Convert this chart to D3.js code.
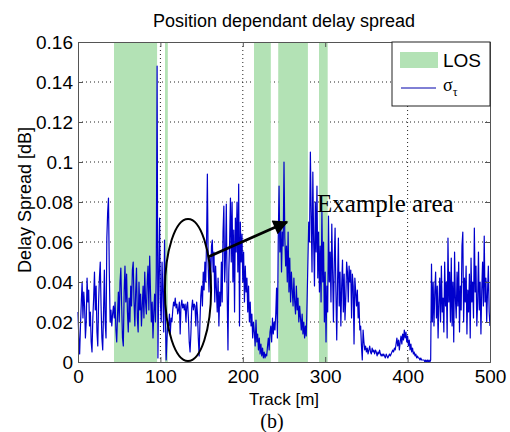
<!DOCTYPE html>
<html>
<head>
<meta charset="utf-8">
<script src="https://cdn.jsdelivr.net/npm/d3@7"></script>
<style>
  body { margin: 0; background: #fff; }
  svg { display: block; }
</style>
</head>
<body>
<div id="chart"></div>
<script>
const sigma = [
  0.025, 0.012, 0.004, 0.018, 0.030, 0.040, 0.022, 0.035, 0.028, 0.012,
  0.020, 0.042, 0.030, 0.036, 0.018, 0.025, 0.010, 0.005, 0.022, 0.032,
  0.045, 0.026, 0.038, 0.015, 0.008, 0.030, 0.042, 0.050, 0.028, 0.012,
  0.006, 0.025, 0.046, 0.020, 0.012, 0.062, 0.075, 0.082, 0.045, 0.020,
  0.026, 0.018, 0.024, 0.028, 0.022, 0.030, 0.016, 0.010, 0.024, 0.035,
  0.020, 0.040, 0.047, 0.028, 0.012, 0.008, 0.035, 0.048, 0.030, 0.044,
  0.025, 0.015, 0.032, 0.020, 0.038, 0.028, 0.046, 0.050, 0.030, 0.018,
  0.035, 0.047, 0.022, 0.015, 0.040, 0.026, 0.034, 0.018, 0.028, 0.038,
  0.022, 0.045, 0.030, 0.024, 0.040, 0.048, 0.026, 0.053, 0.035, 0.020,
  0.030, 0.012, 0.025, 0.034, 0.020, 0.045, 0.148, 0.002, 0.040, 0.072,
  0.030, 0.020, 0.050, 0.035, 0.015, 0.061, 0.025, 0.001, 0.012, 0.020,
  0.018, 0.024, 0.014, 0.022, 0.020, 0.026, 0.030, 0.028, 0.032, 0.027,
  0.029, 0.024, 0.026, 0.030, 0.014, 0.028, 0.031, 0.027, 0.029, 0.026,
  0.029, 0.020, 0.028, 0.030, 0.022, 0.010, 0.005, 0.014, 0.027, 0.031,
  0.026, 0.029, 0.028, 0.018, 0.030, 0.024, 0.012, 0.003, 0.020, 0.033,
  0.038, 0.028, 0.045, 0.036, 0.050, 0.040, 0.060, 0.094, 0.048, 0.035,
  0.052, 0.040, 0.058, 0.061, 0.045, 0.055, 0.030, 0.048, 0.036, 0.025,
  0.042, 0.018, 0.035, 0.028, 0.050, 0.030, 0.065, 0.078, 0.040, 0.052,
  0.079, 0.035, 0.006, 0.045, 0.060, 0.082, 0.050, 0.080, 0.040, 0.066,
  0.025, 0.072, 0.055, 0.080, 0.045, 0.089, 0.018, 0.070, 0.050, 0.064,
  0.040, 0.055, 0.030, 0.048, 0.035, 0.042, 0.025, 0.038, 0.020, 0.030,
  0.018, 0.024, 0.012, 0.020, 0.015, 0.008, 0.021, 0.010, 0.014, 0.006,
  0.012, 0.004, 0.009, 0.003, 0.007, 0.002, 0.005, 0.002, 0.004, 0.003,
  0.008, 0.012, 0.006, 0.015, 0.018, 0.010, 0.022, 0.014, 0.020, 0.016,
  0.024, 0.037, 0.012, 0.060, 0.088, 0.055, 0.070, 0.045, 0.065, 0.058,
  0.100, 0.062, 0.048, 0.058, 0.040, 0.065, 0.035, 0.052, 0.030, 0.045,
  0.036, 0.028, 0.042, 0.030, 0.024, 0.038, 0.026, 0.032, 0.020, 0.028,
  0.022, 0.016, 0.024, 0.014, 0.020, 0.012, 0.018, 0.013, 0.030, 0.050,
  0.070, 0.060, 0.105, 0.075, 0.045, 0.095, 0.060, 0.038, 0.080, 0.055,
  0.088, 0.042, 0.065, 0.035, 0.058, 0.030, 0.075, 0.040, 0.060, 0.020,
  0.045, 0.010, 0.038, 0.025, 0.073, 0.040, 0.055, 0.030, 0.069, 0.045,
  0.020, 0.050, 0.067, 0.035, 0.011, 0.040, 0.062, 0.028, 0.045, 0.018,
  0.038, 0.051, 0.025, 0.044, 0.021, 0.032, 0.050, 0.045, 0.030, 0.048,
  0.040, 0.046, 0.022, 0.044, 0.038, 0.009, 0.042, 0.035, 0.028, 0.036,
  0.022, 0.030, 0.016, 0.018, 0.008, 0.001, 0.016, 0.010, 0.006, 0.008,
  0.005, 0.007, 0.004, 0.006, 0.008, 0.005, 0.004, 0.007, 0.005, 0.006,
  0.004, 0.006, 0.005, 0.003, 0.005, 0.004, 0.006, 0.004, 0.003, 0.004,
  0.003, 0.004, 0.003, 0.002, 0.004, 0.003, 0.002, 0.003, 0.004, 0.003,
  0.004, 0.005, 0.006, 0.005, 0.007, 0.006, 0.009, 0.012, 0.008, 0.011,
  0.006, 0.010, 0.013, 0.009, 0.014, 0.011, 0.016, 0.012, 0.015, 0.010,
  0.013, 0.008, 0.011, 0.006, 0.009, 0.005, 0.007, 0.004, 0.005, 0.003,
  0.004, 0.002, 0.003, 0.002, 0.002, 0.001, 0.002, 0.001, 0.001, 0.001,
  0.001, 0.000, 0.001, 0.000, 0.001, 0.000, 0.001, 0.000, 0.001, 0.049,
  0.020, 0.040, 0.018, 0.035, 0.045, 0.022, 0.038, 0.012, 0.030, 0.042,
  0.020, 0.048, 0.025, 0.032, 0.015, 0.050, 0.028, 0.040, 0.012, 0.062,
  0.030, 0.045, 0.020, 0.052, 0.018, 0.040, 0.010, 0.055, 0.032, 0.022,
  0.045, 0.028, 0.050, 0.015, 0.038, 0.026, 0.058, 0.065, 0.020, 0.042,
  0.030, 0.048, 0.014, 0.036, 0.025, 0.044, 0.012, 0.052, 0.030, 0.040,
  0.022, 0.067, 0.035, 0.048, 0.018, 0.030, 0.055, 0.026, 0.040, 0.014,
  0.036, 0.050, 0.028, 0.063, 0.030, 0.042, 0.020, 0.035, 0.048, 0.025,
  0.018
];
const trackStep = 1; // metres between samples

// Line-of-sight stretches along the track [start, end] in metres
const losStart = [43.7, 105.6, 213.6, 243, 292.5];
const losEnd = [96, 109, 234, 279, 303];

const xTicks = [0, 100, 200, 300, 400, 500];
const yTicks = [0, 0.02, 0.04, 0.06, 0.08, 0.1, 0.12, 0.14, 0.16];

// Annotation (data units)
const ellipseCenter = [133.5, 0.036];
const ellipseRadius = [28, 0.0355];
const arrowFrom = [157.8, 0.0525];
const arrowTo = [253.6, 0.070];
const noteAt = [290, 0.075];

const W = 510, H = 432;
const margin = {top: 42, right: 20, bottom: 70, left: 78};
const width = 490 - margin.left;
const height = 362 - margin.top;

const svg = d3.select("#chart").append("svg")
  .attr("width", W)
  .attr("height", H);

const g = svg.append("g")
  .attr("transform", `translate(${margin.left},${margin.top})`);

const x = d3.scaleLinear().domain([0, 500]).range([0, width]);
const y = d3.scaleLinear().domain([0, 0.16]).range([height, 0]);

const sans = "'Liberation Sans', Arial, sans-serif";
const serif = "'Liberation Serif', 'Times New Roman', serif";

// dotted grid
g.append("g")
  .selectAll("line")
  .data(xTicks.slice(1, -1))
  .join("line")
  .attr("x1", d => x(d)).attr("x2", d => x(d))
  .attr("y1", 0).attr("y2", height)
  .attr("stroke", "#222").attr("stroke-width", 1)
  .attr("stroke-dasharray", "1,3");

g.append("g")
  .selectAll("line")
  .data(yTicks.slice(1, -1))
  .join("line")
  .attr("x1", 0).attr("x2", width)
  .attr("y1", d => y(d)).attr("y2", d => y(d))
  .attr("stroke", "#222").attr("stroke-width", 1)
  .attr("stroke-dasharray", "1,3");

// LOS patches
g.append("g")
  .selectAll("rect")
  .data(losStart.map((s, i) => [s, losEnd[i]]))
  .join("rect")
  .attr("x", d => x(d[0]))
  .attr("width", d => x(d[1]) - x(d[0]))
  .attr("y", 0)
  .attr("height", height)
  .attr("fill", "#b3e2b5");

// sigma_tau trace
const line = d3.line()
  .x((d, i) => x(i * trackStep))
  .y(d => y(d));

g.append("path")
  .datum(sigma)
  .attr("fill", "none")
  .attr("stroke", "#0000cc")
  .attr("stroke-width", 1.2)
  .attr("stroke-linejoin", "round")
  .attr("d", line);

// axes (MATLAB-like box with inward ticks)
g.append("g")
  .attr("transform", `translate(0,${height})`)
  .call(d3.axisBottom(x).tickValues(xTicks).tickSize(-5).tickPadding(8).tickFormat(d3.format("d")));
g.append("g")
  .call(d3.axisLeft(y).tickValues(yTicks).tickSize(-5).tickPadding(5).tickFormat(d => d === 0 ? "0" : String(+d.toFixed(2))));
g.append("g")
  .call(d3.axisTop(x).tickValues(xTicks).tickSize(-5).tickFormat(""));
g.append("g")
  .attr("transform", `translate(${width},0)`)
  .call(d3.axisRight(y).tickValues(yTicks).tickSize(-5).tickFormat(""));

g.selectAll(".domain").attr("stroke", "#555");
g.selectAll(".tick line").attr("stroke", "#555");
g.selectAll(".tick text")
  .attr("fill", "#000")
  .style("font-family", sans)
  .style("font-size", "19px");

// annotation
g.append("ellipse")
  .attr("cx", x(ellipseCenter[0]))
  .attr("cy", y(ellipseCenter[1]))
  .attr("rx", x(ellipseRadius[0]) - x(0))
  .attr("ry", y(0) - y(ellipseRadius[1]))
  .attr("fill", "none")
  .attr("stroke", "#000")
  .attr("stroke-width", 2);

svg.append("defs").append("marker")
  .attr("id", "head")
  .attr("viewBox", "0 0 10 10")
  .attr("refX", 9).attr("refY", 5)
  .attr("markerWidth", 5.5).attr("markerHeight", 5)
  .attr("markerUnits", "strokeWidth")
  .attr("orient", "auto")
  .append("path")
  .attr("d", "M0,0L10,5L0,10z")
  .attr("fill", "#000");

g.append("line")
  .attr("x1", x(arrowFrom[0])).attr("y1", y(arrowFrom[1]))
  .attr("x2", x(arrowTo[0])).attr("y2", y(arrowTo[1]))
  .attr("stroke", "#000")
  .attr("stroke-width", 3)
  .attr("marker-end", "url(#head)");

g.append("text")
  .attr("x", x(noteAt[0]))
  .attr("y", y(noteAt[1]))
  .style("font-family", serif)
  .style("font-size", "25px")
  .text("Example area");

// legend
const legend = g.append("g").attr("transform", `translate(${width - 98},0)`);
legend.append("rect")
  .attr("width", 98).attr("height", 64)
  .attr("fill", "#fff")
  .attr("stroke", "#222");
legend.append("rect")
  .attr("x", 8).attr("y", 10)
  .attr("width", 38).attr("height", 16)
  .attr("fill", "#b3e2b5");
legend.append("text")
  .attr("x", 51).attr("y", 25)
  .style("font-family", sans)
  .style("font-size", "19px")
  .text("LOS");
legend.append("line")
  .attr("x1", 9).attr("x2", 44)
  .attr("y1", 46).attr("y2", 46)
  .attr("stroke", "#0000aa").attr("stroke-width", 1);
const sig = legend.append("text")
  .attr("x", 51).attr("y", 49)
  .style("font-family", serif)
  .style("font-size", "18px");
sig.append("tspan").text("σ");
sig.append("tspan").attr("dy", 5).style("font-size", "12px").text("τ");

// titles
svg.append("text")
  .attr("x", margin.left + width / 2)
  .attr("y", 27)
  .attr("text-anchor", "middle")
  .style("font-family", sans)
  .style("font-size", "18px")
  .text("Position dependant delay spread");

svg.append("text")
  .attr("x", margin.left + width / 2)
  .attr("y", 405)
  .attr("text-anchor", "middle")
  .style("font-family", sans)
  .style("font-size", "17px")
  .text("Track [m]");

svg.append("text")
  .attr("transform", `translate(31,${margin.top + height / 2 - 2}) rotate(-90)`)
  .attr("text-anchor", "middle")
  .style("font-family", sans)
  .style("font-size", "18px")
  .text("Delay Spread [dB]");

svg.append("text")
  .attr("x", 272)
  .attr("y", 428)
  .attr("text-anchor", "middle")
  .style("font-family", serif)
  .style("font-size", "20px")
  .text("(b)");
</script>
</body>
</html>
